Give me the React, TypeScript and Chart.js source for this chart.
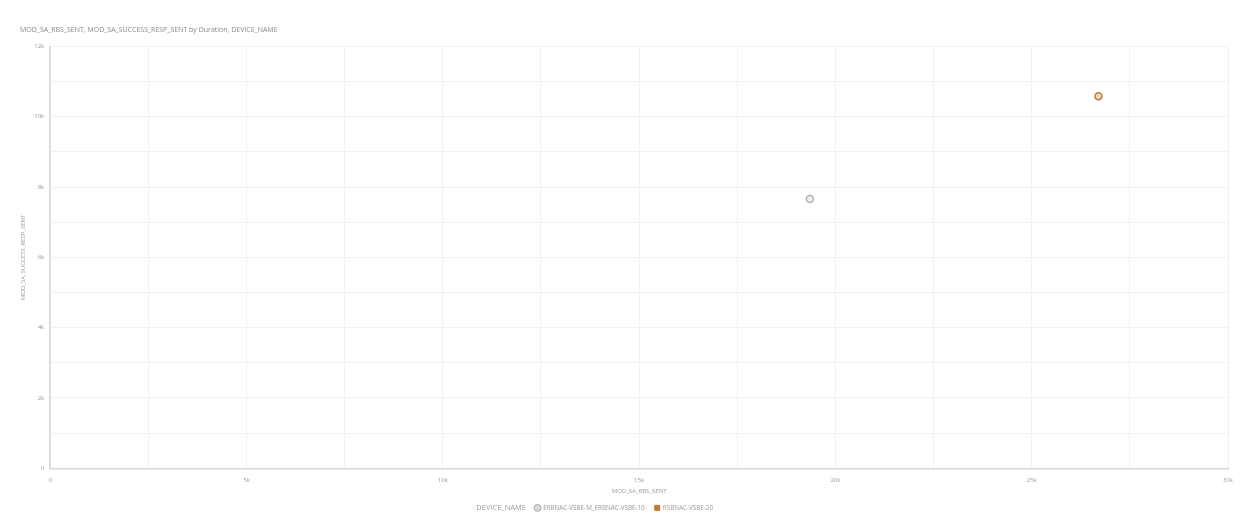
import React, { useEffect, useRef } from "react";
import { Chart, registerables } from "chart.js";

Chart.register(...registerables);

const chartTitle = "MOD_SA_RBS_SENT, MOD_SA_SUCCESS_RESP_SENT by Duration, DEVICE_NAME";
const xAxisTitle = "MOD_SA_RBS_SENT";
const yAxisTitle = "MOD_SA_SUCCESS_RESP_SENT";
const legendTitle = "DEVICE_NAME";
const deviceNames = ["ERBNAC-VSBE-M_ERBNAC-VSBE-10", "RSBNAC-VSBE-20"];
const rbsSent = [19350, 26700];
const successRespSent = [7660, 10580];
const seriesColors = ["#b0b0b0", "#c07a32"];
const legendStyles = ["circle", "rect"];

function fmtK(v: number) {
  if (v === 0) return "0";
  return v / 1000 + "k";
}

export default function App() {
  const ref = useRef<HTMLCanvasElement | null>(null);
  useEffect(() => {
    document.body.style.margin = "0";
    const ctx = ref.current!;
    const legendTitlePlugin = {
      id: "legendTitleInline",
      afterDraw(chart: any) {
        const lg = chart.legend;
        if (!lg || !lg.legendHitBoxes || !lg.legendHitBoxes.length) return;
        const hb = lg.legendHitBoxes[0];
        const c = chart.ctx;
        c.save();
        c.font = "7.5px 'Open Sans'";
        c.fillStyle = "#9a9a9a";
        c.textAlign = "right";
        c.textBaseline = "middle";
        c.fillText(legendTitle, hb.left - 9, hb.top + hb.height / 2);
        c.restore();
      },
    };
    const chart = new Chart(ctx, {
      type: "scatter",
      data: {
        datasets: deviceNames.map((name, i) => ({
          label: name,
          data: [{ x: rbsSent[i], y: successRespSent[i] }],
          borderColor: seriesColors[i],
          backgroundColor: i === 0 ? "rgba(225,225,225,0.5)" : "rgba(192,122,50,0.3)",
          borderWidth: 1.5,
          pointRadius: 3.5,
          pointStyle: "circle",
        })),
      },
      options: {
        animation: false,
        responsive: false,
        maintainAspectRatio: false,
        layout: { padding: { left: 20, right: 27, top: 2, bottom: 5 } },
        plugins: {
          title: {
            display: true,
            text: chartTitle,
            align: "start",
            color: "#8a8a8a",
            font: { family: "'Open Sans'", size: 7, weight: "normal" },
            padding: { top: 24, bottom: 12 },
          },
          legend: {
            position: "bottom",
            labels: {
              color: "#9a9a9a",
              font: { family: "'Open Sans'", size: 6.3 },
              boxWidth: 5,
              boxHeight: 5,
              usePointStyle: true,
              padding: 10,
              generateLabels(chart: any) {
                const items = Chart.defaults.plugins.legend.labels.generateLabels(chart);
                return items.map((it: any, i: number) => ({
                  ...it,
                  pointStyle: legendStyles[i],
                  fillStyle: i === 0 ? "#d8d8d8" : seriesColors[i],
                  strokeStyle: seriesColors[i],
                  lineWidth: 1,
                }));
              },
            },
          },
          tooltip: { enabled: false },
        },
        scales: {
          x: {
            type: "linear",
            min: 0,
            max: 30000,
            title: {
              display: true,
              text: xAxisTitle,
              color: "#9a9a9a",
              font: { family: "'Open Sans'", size: 6 },
              padding: { top: -4, bottom: 0 },
            },
            ticks: {
              stepSize: 2500,
              autoSkip: false,
              maxRotation: 0,
              padding: 8,
              color: "#9a9a9a",
              font: { family: "'Open Sans'", size: 6 },
              callback: (v: any) => (Number(v) % 5000 === 0 ? fmtK(Number(v)) : ""),
            },
            grid: { color: "#f1f1f1", drawTicks: false },
            border: { color: "#d8d8d8", width: 1.5 },
          },
          y: {
            type: "linear",
            min: 0,
            max: 12000,
            title: {
              display: true,
              text: yAxisTitle,
              color: "#9a9a9a",
              font: { family: "'Open Sans'", size: 6 },
              padding: { top: 0, bottom: 1 },
            },
            ticks: {
              stepSize: 1000,
              autoSkip: false,
              padding: 6,
              color: "#9a9a9a",
              font: { family: "'Open Sans'", size: 6 },
              callback: (v: any) => (Number(v) % 2000 === 0 ? fmtK(Number(v)) : ""),
            },
            grid: { color: "#f1f1f1", drawTicks: false },
            border: { color: "#d8d8d8", width: 1.5 },
          },
        },
      },
      plugins: [legendTitlePlugin],
    } as any);
    return () => chart.destroy();
  }, []);
  return (
    <div style={{ width: 1255, height: 526 }}>
      <canvas ref={ref} width={1255} height={526} style={{ display: "block" }} />
    </div>
  );
}
